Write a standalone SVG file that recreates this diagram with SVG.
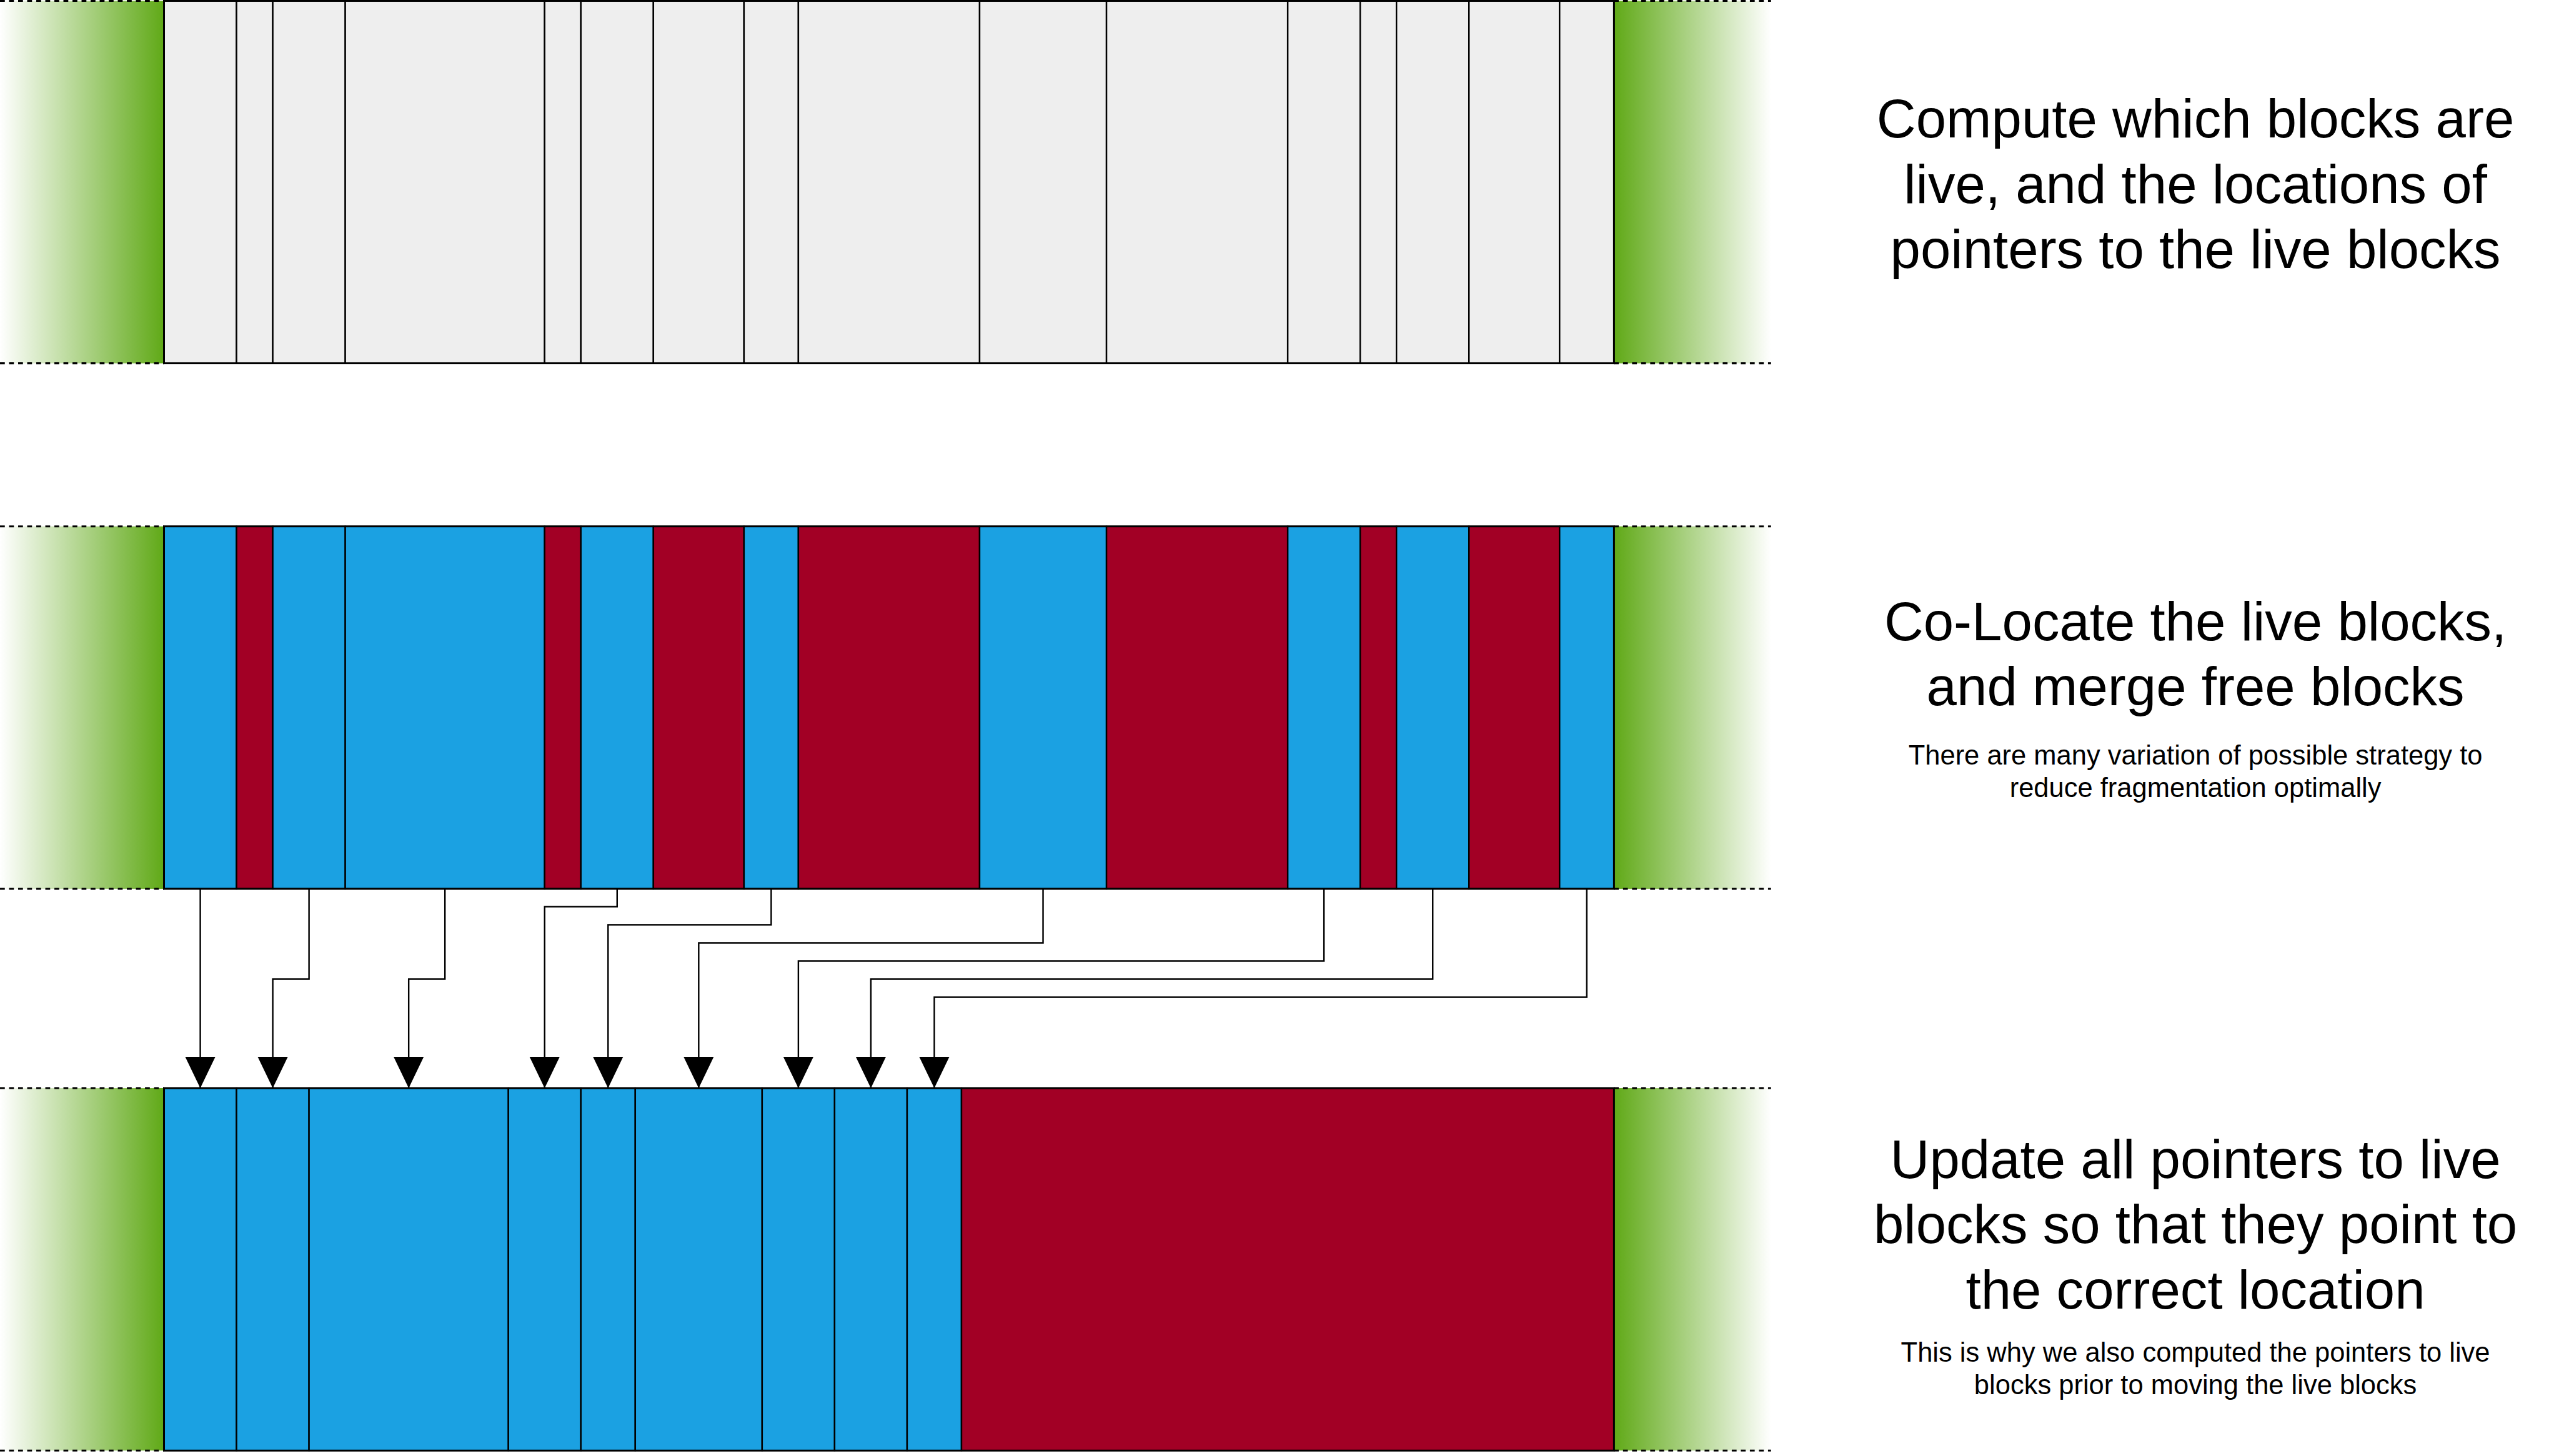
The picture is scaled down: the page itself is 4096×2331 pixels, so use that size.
<svg xmlns="http://www.w3.org/2000/svg" width="4096" height="2331" viewBox="0 0 4096 2331">
<style>
.g{fill:#eeeeee;stroke:#000;stroke-width:2.5}
.b{fill:#1ba1e2;stroke:#000;stroke-width:2.5}
.r{fill:#a20025;stroke:#000;stroke-width:2.5}
.frame{fill:none;stroke:#000;stroke-width:3}
.dash{stroke:#000;stroke-width:3.2;stroke-dasharray:8 7;fill:none}
.conn{fill:none;stroke:#000;stroke-width:2.5}
.big{font-family:"Liberation Sans",Arial,Helvetica,sans-serif;font-size:90px;fill:#000;text-anchor:middle}
.small{font-family:"Liberation Sans",Arial,Helvetica,sans-serif;font-size:45px;fill:#000;text-anchor:middle}
</style>
<defs>
<linearGradient id="gl" x1="0" y1="0" x2="1" y2="0"><stop offset="0" stop-color="#ffffff"/><stop offset="1" stop-color="#60a917"/></linearGradient>
<linearGradient id="gr" x1="0" y1="0" x2="1" y2="0"><stop offset="0" stop-color="#60a917"/><stop offset="1" stop-color="#ffffff"/></linearGradient>
<marker id="arr" markerUnits="userSpaceOnUse" markerWidth="52" markerHeight="52" viewBox="0 0 52 52" refX="52" refY="26" orient="auto"><path d="M0,1 L52,26 L0,51 z" fill="#000"/></marker>
</defs>
<rect width="4096" height="2331" fill="#ffffff"/>
<g transform="scale(0.967)">
<g id="row1">
<rect x="0" y="1.5" width="271.5" height="600" fill="url(#gl)"/>
<rect x="2671.5" y="1.5" width="260" height="600" fill="url(#gr)"/>
<path class="dash" d="M0,1.5H271.5M0,601.5H271.5M2671.5,1.5H2931.5M2671.5,601.5H2931.5"/>
<rect class="g" x="271.5" y="1.5" width="120" height="600"/>
<rect class="g" x="391.5" y="1.5" width="60" height="600"/>
<rect class="g" x="451.5" y="1.5" width="120" height="600"/>
<rect class="g" x="571.5" y="1.5" width="330" height="600"/>
<rect class="g" x="901.5" y="1.5" width="60" height="600"/>
<rect class="g" x="961.5" y="1.5" width="120" height="600"/>
<rect class="g" x="1081.5" y="1.5" width="150" height="600"/>
<rect class="g" x="1231.5" y="1.5" width="90" height="600"/>
<rect class="g" x="1321.5" y="1.5" width="300" height="600"/>
<rect class="g" x="1621.5" y="1.5" width="210" height="600"/>
<rect class="g" x="1831.5" y="1.5" width="300" height="600"/>
<rect class="g" x="2131.5" y="1.5" width="120" height="600"/>
<rect class="g" x="2251.5" y="1.5" width="60" height="600"/>
<rect class="g" x="2311.5" y="1.5" width="120" height="600"/>
<rect class="g" x="2431.5" y="1.5" width="150" height="600"/>
<rect class="g" x="2581.5" y="1.5" width="90" height="600"/>
<rect class="frame" x="271.5" y="1.5" width="2400" height="600"/>
</g>
<g id="row2">
<rect x="0" y="871.5" width="271.5" height="600" fill="url(#gl)"/>
<rect x="2671.5" y="871.5" width="260" height="600" fill="url(#gr)"/>
<path class="dash" d="M0,871.5H271.5M0,1471.5H271.5M2671.5,871.5H2931.5M2671.5,1471.5H2931.5"/>
<rect class="b" x="271.5" y="871.5" width="120" height="600"/>
<rect class="r" x="391.5" y="871.5" width="60" height="600"/>
<rect class="b" x="451.5" y="871.5" width="120" height="600"/>
<rect class="b" x="571.5" y="871.5" width="330" height="600"/>
<rect class="r" x="901.5" y="871.5" width="60" height="600"/>
<rect class="b" x="961.5" y="871.5" width="120" height="600"/>
<rect class="r" x="1081.5" y="871.5" width="150" height="600"/>
<rect class="b" x="1231.5" y="871.5" width="90" height="600"/>
<rect class="r" x="1321.5" y="871.5" width="300" height="600"/>
<rect class="b" x="1621.5" y="871.5" width="210" height="600"/>
<rect class="r" x="1831.5" y="871.5" width="300" height="600"/>
<rect class="b" x="2131.5" y="871.5" width="120" height="600"/>
<rect class="r" x="2251.5" y="871.5" width="60" height="600"/>
<rect class="b" x="2311.5" y="871.5" width="120" height="600"/>
<rect class="r" x="2431.5" y="871.5" width="150" height="600"/>
<rect class="b" x="2581.5" y="871.5" width="90" height="600"/>
<rect class="frame" x="271.5" y="871.5" width="2400" height="600"/>
</g>
<g id="row3">
<rect x="0" y="1801.5" width="271.5" height="600" fill="url(#gl)"/>
<rect x="2671.5" y="1801.5" width="260" height="600" fill="url(#gr)"/>
<path class="dash" d="M0,1801.5H271.5M0,2401.5H271.5M2671.5,1801.5H2931.5M2671.5,2401.5H2931.5"/>
<rect class="b" x="271.5" y="1801.5" width="120" height="600"/>
<rect class="b" x="391.5" y="1801.5" width="120" height="600"/>
<rect class="b" x="511.5" y="1801.5" width="330" height="600"/>
<rect class="b" x="841.5" y="1801.5" width="120" height="600"/>
<rect class="b" x="961.5" y="1801.5" width="90" height="600"/>
<rect class="b" x="1051.5" y="1801.5" width="210" height="600"/>
<rect class="b" x="1261.5" y="1801.5" width="120" height="600"/>
<rect class="b" x="1381.5" y="1801.5" width="120" height="600"/>
<rect class="b" x="1501.5" y="1801.5" width="90" height="600"/>
<rect class="r" x="1591.5" y="1801.5" width="1080" height="600"/>
<rect class="frame" x="271.5" y="1801.5" width="2400" height="600"/>
</g>
<g id="connectors">
<path class="conn" marker-end="url(#arr)" d="M331.5,1471.5V1801.5"/>
<path class="conn" marker-end="url(#arr)" d="M511.5,1471.5V1621H451.5V1801.5"/>
<path class="conn" marker-end="url(#arr)" d="M736.5,1471.5V1621H676.5V1801.5"/>
<path class="conn" marker-end="url(#arr)" d="M1021.5,1471.5V1501H901.5V1801.5"/>
<path class="conn" marker-end="url(#arr)" d="M1276.5,1471.5V1531H1006.5V1801.5"/>
<path class="conn" marker-end="url(#arr)" d="M1726.5,1471.5V1561H1156.5V1801.5"/>
<path class="conn" marker-end="url(#arr)" d="M2191.5,1471.5V1591H1321.5V1801.5"/>
<path class="conn" marker-end="url(#arr)" d="M2371.5,1471.5V1621H1441.5V1801.5"/>
<path class="conn" marker-end="url(#arr)" d="M2626.5,1471.5V1651H1546.5V1801.5"/>
</g>
<g id="label1">
<text class="big" x="3634" y="228">Compute which blocks are</text>
<text class="big" x="3634" y="336">live, and the locations of</text>
<text class="big" x="3634" y="444">pointers to the live blocks</text>
</g>
<g id="label2">
<text class="big" x="3634" y="1060">Co-Locate the live blocks,</text>
<text class="big" x="3634" y="1168">and merge free blocks</text>
<text class="small" x="3634" y="1266">There are many variation of possible strategy to</text>
<text class="small" x="3634" y="1320">reduce fragmentation optimally</text>
</g>
<g id="label3">
<text class="big" x="3634" y="1950">Update all pointers to live</text>
<text class="big" x="3634" y="2058">blocks so that they point to</text>
<text class="big" x="3634" y="2166">the correct location</text>
<text class="small" x="3634" y="2254">This is why we also computed the pointers to live</text>
<text class="small" x="3634" y="2308">blocks prior to moving the live blocks</text>
</g>
</g>
</svg>
